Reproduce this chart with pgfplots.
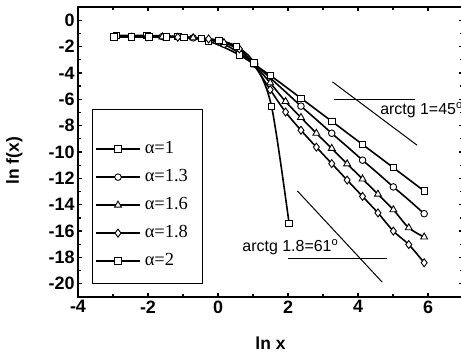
\documentclass[border=0pt]{standalone}
\usepackage{fontspec}
\setmainfont{Liberation Sans}
\newfontfamily\legfont{Liberation Serif}
\usepackage{pgfplots}
\pgfplotsset{compat=1.18}
\pgfplotsset{
  dline/.style={black, line width=1.6bp, smooth, tension=0.5, no markers, forget plot},
  dmark/.style={black, only marks, mark options={fill=white, draw=black, line width=0.9bp, solid}, forget plot},
}
\begin{document}
\begin{tikzpicture}
\path[use as bounding box] (-78bp,-59bp) rectangle (383bp,297bp);
\begin{axis}[
  at={(0,0)}, anchor=south west,
  scale only axis, width=385bp, height=290bp,
  xmin=-4, xmax=7, ymin=-21, ymax=1,
  xtick={-4,-2,0,2,4,6}, ytick={-20,-18,...,0},
  minor xtick={-3,-1,1,3,5,7}, minor ytick={-21,-19,...,1},
  tick align=inside, xtick pos=both, ytick pos=both,
  xticklabel pos=lower, yticklabel pos=left,
  major tick length=4.5bp, minor tick length=3bp,
  every tick/.style={black, line width=1.2bp},
  axis line style={line width=1.6bp},
  /pgf/number format/assume math mode=true,
  ticklabel style={font=\bfseries\fontsize{18}{18}\selectfont},
  xlabel={ln x}, ylabel={ln f(x)},
  label style={font=\bfseries\fontsize{17.5}{17.5}\selectfont},
  xlabel style={at={(axis description cs:0.5,-0.159)}, anchor=center},
  ylabel style={at={(axis description cs:-0.165,0.47)}, anchor=center},
  clip=false,
  legend image code/.code={\draw[mark repeat=2,mark phase=2,#1] plot coordinates {(0bp,0bp) (22bp,0bp) (44bp,0bp)};},
  legend style={draw=none, fill=none, inner sep=0pt, at={(axis cs:-3.514,-9.01)}, anchor=north west,
    font=\legfont\fontsize{18.5}{18.5}\selectfont, row sep=8bp, column sep=2bp,
    nodes={inner sep=2bp, text height=12bp, text depth=4bp}},
  legend cell align=left,
]
% legend frame
\draw[line width=0.8bp, fill=white] (axis cs:-3.6,-6.76) rectangle (axis cs:-0.457,-19.97);

% alpha = 1
\addplot[dline] coordinates {(-2.91,-1.15)(-2.03,-1.16)(-1.15,-1.24)(-0.27,-1.60)(0.61,-2.64)(1.49,-4.19)(2.37,-5.92)(3.25,-7.67)(4.13,-9.43)(5.01,-11.19)(5.89,-12.96)};
% alpha = 1.3
\addplot[dline] coordinates {(-2.91,-1.226)(-2.47,-1.227)(-2.03,-1.232)(-1.59,-1.244)(-1.15,-1.272)(-0.71,-1.339)(-0.27,-1.491)(0.17,-1.82)(0.61,-2.50)(1.05,-3.33)(1.49,-4.38)(1.93,-5.44)(2.37,-6.52)(2.81,-7.54)(3.25,-8.58)(3.69,-9.59)(4.13,-10.62)(4.57,-11.62)(5.01,-12.65)(5.45,-13.64)(5.89,-14.68)};
% alpha = 1.6
\addplot[dline] coordinates {(-2.91,-1.255)(-2.47,-1.256)(-2.03,-1.259)(-1.59,-1.268)(-1.15,-1.287)(-0.71,-1.333)(-0.27,-1.444)(0.17,-1.701)(0.61,-2.263)(1.05,-3.40)(1.49,-4.75)(1.93,-6.17)(2.37,-7.38)(2.81,-8.58)(3.25,-9.73)(3.69,-10.90)(4.13,-12.05)(4.57,-13.20)(5.01,-14.38)(5.45,-15.75)(5.89,-16.45)};
% alpha = 1.8
\addplot[dline] coordinates {(-2.91,-1.263)(-2.47,-1.264)(-2.03,-1.267)(-1.59,-1.274)(-1.15,-1.290)(-0.71,-1.330)(-0.27,-1.425)(0.17,-1.652)(0.61,-2.180)(1.05,-3.50)(1.49,-5.27)(1.93,-6.97)(2.37,-8.35)(2.81,-9.63)(3.25,-10.88)(3.69,-12.13)(4.13,-13.37)(4.57,-14.62)(5.01,-16.0)(5.45,-17.02)(5.89,-18.4)};
% alpha = 2
\addplot[dline] coordinates {(-2.97,-1.267)(-2.47,-1.268)(-1.97,-1.271)(-1.47,-1.279)(-0.97,-1.302)(-0.47,-1.364)(0.03,-1.531)(0.53,-1.99)(1.03,-3.23)(1.53,-6.55)(2.03,-15.4)};

% markers
\addplot[dmark, mark=square*, mark size=3.2bp] coordinates {(-2.91,-1.15)(-2.03,-1.16)(-1.15,-1.24)(-0.27,-1.60)(0.61,-2.64)(1.49,-4.19)(2.37,-5.92)(3.25,-7.67)(4.13,-9.43)(5.01,-11.19)(5.89,-12.96)};
\addplot[dmark, mark=*, mark size=3.3bp] coordinates {(-2.47,-1.227)(-1.59,-1.244)(-0.71,-1.339)(0.17,-1.82)(1.05,-3.33)(2.37,-6.52)(3.25,-8.58)(4.13,-10.62)(5.01,-12.65)(5.89,-14.68)};
\addplot[dmark, mark=triangle*, mark size=4bp] coordinates {(-1.59,-1.268)(-0.71,-1.333)(0.17,-1.701)(1.05,-3.40)(1.49,-4.75)(1.93,-6.17)(2.37,-7.38)(2.81,-8.58)(3.25,-9.73)(3.69,-10.90)(4.13,-12.05)(4.57,-13.20)(5.01,-14.38)(5.45,-15.75)(5.89,-16.45)};
\addplot[dmark, mark=diamond*, mark size=4bp] coordinates {(-2.03,-1.267)(-1.15,-1.290)(-0.27,-1.425)(0.61,-2.180)(1.49,-5.27)(1.93,-6.97)(2.37,-8.35)(2.81,-9.63)(3.25,-10.88)(3.69,-12.13)(4.13,-13.37)(4.57,-14.62)(5.01,-16.0)(5.45,-17.02)(5.89,-18.4)};
\addplot[dmark, mark=square*, mark size=3.2bp] coordinates {(-2.97,-1.267)(-2.47,-1.268)(-1.97,-1.271)(-1.47,-1.279)(-0.97,-1.302)(-0.47,-1.364)(0.03,-1.531)(0.53,-1.99)(1.03,-3.23)(1.53,-6.55)(2.03,-15.4)};

% legend
\addlegendimage{black, line width=1.6bp, mark=square*, mark size=3.2bp, mark options={fill=white, line width=0.9bp}}
\addlegendentry{α=1}
\addlegendimage{black, line width=1.6bp, mark=*, mark size=3.3bp, mark options={fill=white, line width=0.9bp}}
\addlegendentry{α=1.3}
\addlegendimage{black, line width=1.6bp, mark=triangle*, mark size=4bp, mark options={fill=white, line width=0.9bp}}
\addlegendentry{α=1.6}
\addlegendimage{black, line width=1.6bp, mark=diamond*, mark size=4bp, mark options={fill=white, line width=0.9bp}}
\addlegendentry{α=1.8}
\addlegendimage{black, line width=1.6bp, mark=square*, mark size=3.2bp, mark options={fill=white, line width=0.9bp}}
\addlegendentry{α=2}

% slope annotations
\draw[line width=1bp] (axis cs:3.3,-6.02) -- (axis cs:5.63,-6.02);
\draw[line width=1bp] (axis cs:3.27,-4.68) -- (axis cs:5.69,-9.49);
\draw[line width=0.8bp] (axis cs:3.945,-6.02) ++(16bp,0) arc[start angle=0, end angle=-37, radius=16bp];
\node[anchor=west, inner sep=0pt, font=\fontsize{16}{16}\selectfont] at (axis cs:4.63,-6.83) {arctg 1=45\textsuperscript{o}};

\draw[line width=1bp] (axis cs:2.01,-18.1) -- (axis cs:4.82,-18.1);
\draw[line width=1bp] (axis cs:2.27,-12.96) -- (axis cs:4.69,-19.87);
\draw[line width=0.8bp] (axis cs:4.07,-18.1) ++(-17bp,0) arc[start angle=180, end angle=133, radius=17bp];
\node[anchor=west, inner sep=0pt, font=\fontsize{16}{16}\selectfont] at (axis cs:0.694,-17.21) {arctg 1.8=61\textsuperscript{o}};
\end{axis}
\end{tikzpicture}
\end{document}
